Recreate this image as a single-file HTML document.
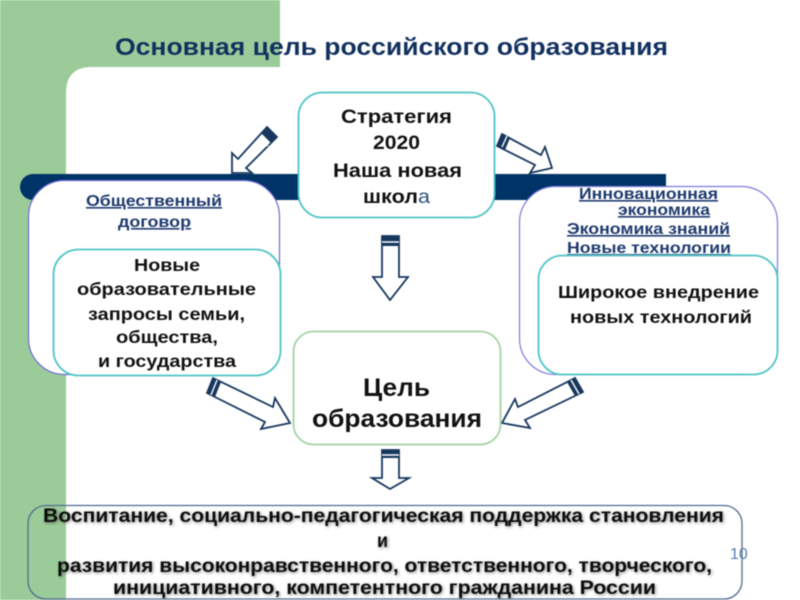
<!DOCTYPE html>
<html lang="ru"><head><meta charset="utf-8"><title>Основная цель российского образования</title>
<style>
html,body{margin:0;padding:0;background:#fff;width:800px;height:600px;overflow:hidden}
svg{display:block;filter:blur(.45px)}
text{font-family:"Liberation Sans","DejaVu Sans",sans-serif;font-weight:bold;text-anchor:start}
.k{fill:#111}
.u{fill:#1f3a6e;text-decoration:underline}
</style></head><body>
<svg width="800" height="600" viewBox="0 0 800 600" xmlns="http://www.w3.org/2000/svg">
<defs>
<filter id="d" x="-5%" y="-30%" width="110%" height="160%"><feDropShadow dx="1" dy="1" stdDeviation="1.5" flood-color="#000" flood-opacity=".45"/></filter>
</defs>
<rect width="800" height="600" fill="#fff"/>
<path d="M0 0H280V67H92Q66 67 66 93V600H0Z" fill="#9ccb9a"/>
<path d="M33 174H666V200H33A13 13 0 0 1 33 174Z" fill="#003366"/>

<g fill="#fff" stroke="#17375e" stroke-width="1.8">
<polygon points="267,127 277,137 246,168 252,173 232,173 232,153 238,159"/>
<polygon points="502,134 541,155 545,147 552,168 530,173 535,165 497,146"/>
<polygon points="382,236 399,236 399,277 408,277 390,300 373,277 382,277"/>
<polygon points="382,450 399,450 399,478 409,478 390,489 372,478 382,478"/>
<polygon points="213,378 273,407 275,398 290,423 261,429 265,422 207,393"/>
<polygon points="575,378 583,392 525,420 530,428 502,423 515,399 518,407"/>
</g>
<g fill="#17375e">
<polygon points="267,127 277,137 271,143 261,133"/>
<polygon points="502,134 497,146 505,150 510,138"/>
<rect x="382" y="236" width="17" height="10"/>
<rect x="382" y="450" width="17" height="8"/>
<polygon points="213,378 207,393 215,397 221,382"/>
<polygon points="575,378 583,392 575,396 567,382"/>
</g>
<g stroke="#fff" stroke-width="1.4" fill="none">
<line x1="261" y1="139" x2="268" y2="146"/>
<line x1="502" y1="147" x2="507" y2="136"/>
<line x1="382" y1="242" x2="399" y2="242"/>
<line x1="382" y1="455" x2="399" y2="455"/>
<line x1="211" y1="395" x2="217" y2="380"/>
<line x1="579" y1="394" x2="571" y2="380"/>
</g>

<rect x="28.5" y="180.5" width="251" height="194" rx="36" fill="#fff" stroke="#6b6bd6" stroke-width="1.2"/>
<text class="u" x="86" y="206" font-size="16" textLength="136" lengthAdjust="spacingAndGlyphs">Общественный</text>
<text class="u" x="118" y="227" font-size="16" textLength="73" lengthAdjust="spacingAndGlyphs">договор</text>
<rect x="53.5" y="249.5" width="227" height="126" rx="25" fill="#fff" stroke="#4fc4c6" stroke-width="1.8"/>
<g font-size="17.5">
<text class="k" x="134" y="271" textLength="66" lengthAdjust="spacingAndGlyphs">Новые</text>
<text class="k" x="77" y="295" textLength="179" lengthAdjust="spacingAndGlyphs">образовательные</text>
<text class="k" x="88" y="320" textLength="157" lengthAdjust="spacingAndGlyphs">запросы семьи,</text>
<text class="k" x="116" y="343" textLength="102" lengthAdjust="spacingAndGlyphs">общества,</text>
<text class="k" x="98" y="367" textLength="138" lengthAdjust="spacingAndGlyphs">и государства</text>
</g>

<rect x="519.5" y="186.5" width="258" height="188" rx="36" fill="#fff" stroke="#7b7bdc" stroke-width="1.2"/>
<g font-size="16">
<text class="u" x="579" y="199" textLength="139" lengthAdjust="spacingAndGlyphs">Инновационная</text>
<text class="u" x="618" y="215" textLength="92" lengthAdjust="spacingAndGlyphs">экономика</text>
<text class="u" x="567" y="234" textLength="163" lengthAdjust="spacingAndGlyphs">Экономика знаний</text>
<text class="u" x="567" y="253" textLength="164" lengthAdjust="spacingAndGlyphs">Новые технологии</text>
</g>
<rect x="538.5" y="255.5" width="239" height="119" rx="24" fill="#fff" stroke="#4fc4c6" stroke-width="1.8"/>
<g font-size="17.5">
<text class="k" x="558" y="298" textLength="201" lengthAdjust="spacingAndGlyphs">Широкое внедрение</text>
<text class="k" x="570" y="323" textLength="182" lengthAdjust="spacingAndGlyphs">новых технологий</text>
</g>

<rect x="298.5" y="92.5" width="196" height="125" rx="24" fill="#fff" stroke="#4fc4c6" stroke-width="1.8"/>
<g font-size="19.5">
<text class="k" x="341" y="123" textLength="111" lengthAdjust="spacingAndGlyphs">Стратегия</text>
<text class="k" x="373" y="149" textLength="47" lengthAdjust="spacingAndGlyphs">2020</text>
<text class="k" x="333" y="177" textLength="129" lengthAdjust="spacingAndGlyphs">Наша новая</text>
<text class="k" x="363" y="203" textLength="55" lengthAdjust="spacingAndGlyphs">школ</text>
<text x="418" y="203" style="font-weight:normal;fill:#2f4f7f" textLength="12" lengthAdjust="spacingAndGlyphs">а</text>
</g>

<rect x="293.5" y="331.5" width="207" height="113" rx="20" fill="#fff" stroke="#a5d2a5" stroke-width="1.8"/>
<g font-size="25">
<text class="k" x="363" y="396" textLength="67" lengthAdjust="spacingAndGlyphs">Цель</text>
<text class="k" x="312" y="427" textLength="170" lengthAdjust="spacingAndGlyphs">образования</text>
</g>

<text x="115" y="55" font-size="24.5" fill="#12305f" textLength="553" lengthAdjust="spacingAndGlyphs">Основная цель российского образования</text>

<rect x="28" y="505.5" width="714" height="93.5" rx="18" fill="none" stroke="#4f6b8f" stroke-width="1.3"/>
<g font-size="19" filter="url(#d)">
<text class="k" x="43" y="522" textLength="681" lengthAdjust="spacingAndGlyphs">Воспитание, социально-педагогическая поддержка становления</text>
<text class="k" x="377" y="547" textLength="11" lengthAdjust="spacingAndGlyphs">и</text>
<text class="k" x="57" y="572" textLength="655" lengthAdjust="spacingAndGlyphs">развития высоконравственного, ответственного, творческого,</text>
<text class="k" x="113" y="594" textLength="543" lengthAdjust="spacingAndGlyphs">инициативного, компетентного гражданина России</text>
</g>
<text x="730" y="559" font-size="16" style="font-weight:normal" fill="#5b7db1">10</text>
</svg>
</body></html>
